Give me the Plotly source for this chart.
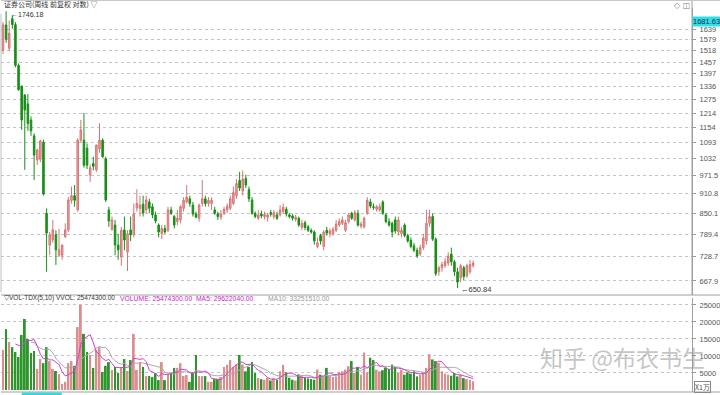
import numpy as np
import pandas as pd
import plotly.graph_objects as go

# ---------------- data ----------------
open_ = [1521, 1663, 1530, 1700, 1665, 1440, 1337, 1295, 1255, 1185,
         1120, 1028, 1030, 1095, 850, 759, 773, 787, 732, 732,
         782, 801, 890, 905, 860, 1103, 1103, 1072, 974, 1015,
         992, 1069, 1103, 1032, 860, 803, 815, 759, 727, 801,
         740, 801, 787, 866, 865, 878, 860, 885, 870, 845,
         815, 790, 805, 800, 860, 840, 825, 830, 865, 885,
         895, 875, 848, 835, 880, 895, 880, 880, 860, 848,
         838, 850, 860, 865, 880, 905, 955, 920, 962, 925,
         891, 850, 835, 848, 840, 838, 852, 840, 845, 845,
         855, 862, 845, 842, 832, 835, 808, 822, 810, 800,
         795, 755, 785, 755, 800, 790, 790, 800, 815, 820,
         800, 825, 850, 830, 850, 812, 810, 850, 885, 870,
         862, 860, 885, 845, 825, 820, 830, 795, 790, 815,
         785, 772, 757, 745, 735, 752, 770, 820, 840, 775,
         690, 700, 705, 712, 735, 715, 690, 675, 700, 680,
         690, 705]
high = [1680, 1746.18, 1690, 1720, 1680, 1450, 1340, 1300, 1300, 1200,
        1130, 1070, 1105, 1105, 865, 795, 830, 800, 804, 760,
        820, 900, 935, 940, 1110, 1185, 1215, 1090, 1012, 1040,
        1085, 1172, 1110, 1040, 870, 840, 830, 790, 810, 840,
        800, 840, 880, 926, 905, 905, 905, 895, 880, 855,
        820, 815, 815, 870, 870, 845, 860, 875, 900, 940,
        905, 885, 855, 880, 957, 905, 900, 900, 870, 855,
        860, 870, 880, 905, 935, 960, 985, 990, 975, 935,
        900, 855, 860, 858, 855, 850, 860, 860, 855, 875,
        880, 870, 850, 848, 845, 840, 830, 828, 815, 805,
        800, 780, 790, 800, 810, 805, 810, 830, 835, 840,
        830, 850, 855, 860, 860, 825, 840, 900, 895, 880,
        875, 880, 890, 850, 835, 825, 840, 840, 810, 820,
        790, 780, 765, 752, 760, 790, 860, 860, 850, 780,
        705, 715, 725, 740, 752, 720, 700, 710, 705, 710,
        720, 718]
low = [1500, 1560, 1515, 1640, 1430, 1315, 1144, 992, 1140, 1120,
       957, 1010, 1020, 905, 690, 732, 765, 707, 727, 720,
       778, 795, 880, 870, 855, 1095, 1000, 995, 950, 990,
       985, 1055, 1035, 885, 810, 798, 732, 720, 705, 745,
       692, 770, 780, 855, 840, 840, 850, 850, 835, 820,
       780, 775, 790, 795, 845, 805, 815, 820, 855, 880,
       870, 840, 835, 825, 870, 870, 870, 860, 845, 830,
       830, 845, 850, 860, 875, 895, 920, 905, 930, 885,
       845, 835, 830, 835, 832, 825, 840, 832, 830, 840,
       848, 840, 835, 828, 825, 810, 800, 800, 795, 790,
       760, 750, 760, 745, 785, 780, 785, 795, 810, 815,
       795, 820, 830, 825, 810, 805, 805, 845, 865, 860,
       855, 855, 845, 820, 810, 780, 790, 785, 780, 780,
       765, 750, 740, 725, 730, 745, 760, 810, 770, 680,
       680, 690, 700, 705, 705, 680, 650.84, 665, 670, 675,
       685, 700]
close = [1663, 1580, 1615, 1665, 1440, 1320, 1185, 1228, 1170, 1140,
         1046, 1065, 1100, 910, 792, 787, 801, 746, 746, 759,
         801, 891, 905, 890, 1103, 1144, 1009, 1009, 1000, 1005,
         1084, 1103, 1040, 891, 827, 830, 759, 746, 800, 773,
         790, 787, 848, 880, 875, 851, 891, 865, 845, 827,
         795, 805, 795, 860, 850, 815, 835, 870, 890, 900,
         880, 848, 838, 875, 895, 880, 890, 890, 850, 840,
         848, 862, 872, 895, 915, 945, 930, 960, 940, 895,
         850, 840, 845, 842, 846, 845, 847, 852, 835, 860,
         868, 848, 840, 835, 838, 815, 820, 808, 800, 795,
         770, 765, 770, 795, 792, 798, 802, 818, 825, 830,
         822, 845, 835, 852, 815, 818, 835, 890, 872, 868,
         870, 870, 850, 825, 815, 795, 798, 830, 800, 785,
         770, 755, 745, 730, 752, 778, 820, 840, 775, 685,
         700, 708, 715, 730, 715, 690, 665, 705, 678, 705,
         708, 712]
volume = [11800, 17900, 14100, 12600, 11200, 9700, 16200, 20900, 15000, 10900,
          11500, 6200, 9100, 7900, 12600, 8500, 6200, 5600, 4700, 1800,
          2400, 7900, 8500, 7100, 18500, 25000, 16500, 11200, 10300, 6500,
          11800, 12600, 5300, 7100, 8200, 5900, 6800, 5000, 6800, 9100,
          5600, 8800, 16500, 5900, 8200, 6800, 4100, 4100, 3800, 5000,
          2900, 8200, 2900, 4700, 5000, 6500, 6500, 7900, 4100, 4400,
          2400, 5300, 10300, 4100, 4100, 4100, 2400, 2400, 3200, 3200,
          3800, 6800, 7400, 8800, 6800, 7500, 10300, 7500, 5500, 6800,
          8200, 5000, 3500, 3200, 3000, 3600, 2800, 3400, 3000, 5500,
          7400, 5200, 3600, 3000, 2800, 4600, 4200, 3600, 3400, 3200,
          3000, 6000, 4500, 4000, 6500, 4200, 3800, 4000, 5200, 5500,
          6000, 7000, 8500, 5000, 6800, 4500, 11000, 5200, 9500, 8800,
          6000, 5500, 5800, 6500, 6200, 7500, 6800, 5000, 6000, 4500,
          5200, 4800, 5500, 4000, 4500, 5000, 6500, 10500, 9000, 8500,
          8000, 5500, 4800, 4500, 4200, 5000, 4000, 4500, 3500, 3200,
          3000, 2547]

price_ticks = [1639, 1579, 1518, 1457, 1397, 1336, 1275, 1214, 1154, 1093,
               1032, 971.5, 910.8, 850.1, 789.4, 728.7, 667.9]
price_tick_text = ["1639", "1579", "1518", "1457", "1397", "1336", "1275", "1214", "1154", "1093",
                   "1032", "971.5", "910.8", "850.1", "789.4", "728.7", "667.9"]
vol_ticks = [5000, 10000, 15000, 20000, 25000]
vol_tick_text = ["5000", "10000", "15000", "20000", "25000"]
top_value = 1681.63

title_text = "证券公司(周线 前复权 对数) ▽"
vol_head1 = "▽VOL-TDX(5,10) VVOL: 25474300.00"
vol_head2 = "VOLUME: 25474300.00  MA5: 29622040.00"
vol_head3 = "MA10: 33251510.00"
watermark = "知乎 @布衣书生"

# ---------------- figure ----------------
n = len(close)
x = list(range(n))
UP_LINE, UP_FILL = "#d77474", "#e9a6a6"
DN = "#168f16"

fig = go.Figure()
fig.add_trace(go.Candlestick(
    x=x, open=open_, high=high, low=low, close=close,
    increasing=dict(line=dict(color=UP_LINE, width=1), fillcolor=UP_FILL),
    decreasing=dict(line=dict(color=DN, width=1), fillcolor=DN),
    whiskerwidth=0, yaxis="y", showlegend=False, hoverinfo="skip"))

vcolors = ["#dc8d8d" if c >= o else "#2c962c" for o, c in zip(open_, close)]
fig.add_trace(go.Bar(x=x, y=volume, marker=dict(color=vcolors, line=dict(width=0)),
                     width=0.62, yaxis="y2", showlegend=False, hoverinfo="skip"))
vs = pd.Series(volume, dtype=float)
fig.add_trace(go.Scatter(x=x, y=vs.rolling(10).mean(), mode="lines",
                         line=dict(color="#aaaaaa", width=1), yaxis="y2", showlegend=False))
fig.add_trace(go.Scatter(x=x, y=vs.rolling(5).mean(), mode="lines",
                         line=dict(color="#d040d0", width=1), yaxis="y2", showlegend=False))

FONT = "Liberation Sans"
tickfont = dict(family=FONT, size=7.5, color="#555")
GRID = "#c4c4c4"

fig.update_layout(
    width=720, height=395, margin=dict(l=1, r=28, t=8, b=3),
    paper_bgcolor="white", plot_bgcolor="white", showlegend=False,
    xaxis=dict(range=[-0.64, 221.3], showgrid=False, zeroline=False, showticklabels=False,
               ticks="", rangeslider=dict(visible=False), anchor="y2", showline=False),
    yaxis=dict(type="log", domain=[0.2526, 1], range=[2.80288, 3.24708], side="right",
               tickvals=price_ticks, ticktext=price_tick_text, tickfont=tickfont,
               showgrid=True, gridcolor=GRID, griddash="dot", gridwidth=1,
               ticks="outside", ticklen=3, tickcolor="#999", showline=True, linecolor="#a0a0a0",
               zeroline=False, anchor="x", ticklabelstandoff=2),
    yaxis2=dict(domain=[0, 0.2448], range=[-590, 27060], side="right",
                tickvals=vol_ticks, ticktext=vol_tick_text, tickfont=tickfont,
                showgrid=True, gridcolor=GRID, griddash="dot", gridwidth=1,
                ticks="outside", ticklen=3, tickcolor="#999", showline=True, linecolor="#a0a0a0",
                zeroline=False, anchor="x", ticklabelstandoff=2),
)

shapes = [
    dict(type="line", xref="paper", yref="paper", x0=0, x1=1.0405, y0=0.2526, y1=0.2526,
         line=dict(color="#a0a0a0", width=1)),
    dict(type="line", xref="paper", yref="paper", x0=1, x1=1, y0=0.2526, y1=1.0205,
         line=dict(color="#a0a0a0", width=1)),
    dict(type="line", xref="paper", yref="paper", x0=0, x1=1.0405, y0=1.0195, y1=1.0195,
         line=dict(color="#c8c8c8", width=1)),
    dict(type="line", xref="paper", yref="paper", x0=0, x1=0, y0=0.26, y1=0.985,
         line=dict(color="#c0c0c0", width=1)),
    dict(type="line", xref="paper", yref="paper", x0=0, x1=1.0405, y0=0.0, y1=0.0,
         line=dict(color="#a0a0a0", width=1)),
    dict(type="rect", xref="paper", yref="paper", x0=0.030, x1=0.088, y0=-0.008, y1=-0.001,
         fillcolor="#3ad6e0", line=dict(width=0)),
]
fig.update_layout(shapes=shapes)

imax = int(np.argmax(high))
imin = int(np.argmin(low))
ann = [
    dict(xref="paper", yref="paper", x=0.0015, y=1.0115, xanchor="left", yanchor="middle",
         text=title_text, showarrow=False, font=dict(family="Noto Sans CJK SC", size=7, color="#333")),
    dict(xref="paper", yref="paper", x=0.986, y=1.006, xanchor="center", yanchor="middle",
         text="◇ ◫", showarrow=False, font=dict(family="DejaVu Sans", size=8, color="#888")),
    dict(xref="x", yref="y", x=imax, y=np.log10(high[imax]), xanchor="left", yanchor="middle",
         xshift=3, yshift=-3, text="←%.2f" % high[imax], showarrow=False,
         font=dict(family=FONT, size=7, color="#333")),
    dict(xref="x", yref="y", x=imin, y=np.log10(low[imin]), xanchor="left", yanchor="middle",
         xshift=1, yshift=-1, text="←%.2f" % low[imin], showarrow=False,
         font=dict(family=FONT, size=7.5, color="#333")),
    dict(xref="paper", yref="y", x=1, y=np.log10(top_value), xanchor="left", yanchor="middle",
         xshift=0, text="%.2f" % top_value, showarrow=False, bgcolor="#2fe0e6", borderpad=0,
         font=dict(family=FONT, size=7.5, color="#1a2a5a")),
    dict(xref="paper", yref="paper", x=0.0015, y=0.2435, xanchor="left", yanchor="middle",
         text=vol_head1, showarrow=False, font=dict(family=FONT, size=6.5, color="#333")),
    dict(xref="paper", yref="paper", x=0.1693, y=0.2435, xanchor="left", yanchor="middle",
         text=vol_head2, showarrow=False, font=dict(family=FONT, size=6.8, color="#cc22cc")),
    dict(xref="paper", yref="paper", x=0.3835, y=0.2435, xanchor="left", yanchor="middle",
         text=vol_head3, showarrow=False, font=dict(family=FONT, size=6.8, color="#999")),
    dict(xref="paper", yref="paper", x=1.003, y=0.012, xanchor="left", yanchor="middle",
         text="X1万", showarrow=False, bordercolor="#888", borderwidth=1, borderpad=0,
         font=dict(family="Noto Sans CJK SC", size=7, color="#555")),
    dict(xref="paper", yref="paper", x=0.9, y=0.09, xanchor="center", yanchor="middle",
         text=watermark, showarrow=False,
         font=dict(family="Noto Sans CJK SC", size=23, color="rgba(140,140,140,0.5)")),
]
fig.update_layout(annotations=ann)

fig.write_html("out.html", config={"displayModeBar": False},
               post_script="document.body.style.margin='0';document.body.style.overflow='hidden';")
